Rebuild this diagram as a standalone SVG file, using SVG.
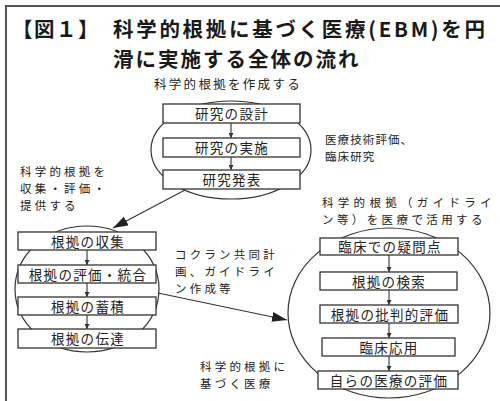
<svg xmlns="http://www.w3.org/2000/svg" width="500" height="401" viewBox="0 0 500 401">
<defs>
<style>
.t{font-family:"Noto Sans CJK JP","Liberation Sans",sans-serif;fill:#222}
.title{font-size:20.5px;font-weight:bold;fill:#1a1a1a}
.lbl{font-size:11.5px;letter-spacing:3.2px}
.bx rect{fill:#fff;stroke:#333;stroke-width:1.3}
.bx text{font-family:"Noto Sans CJK JP","Liberation Sans",sans-serif;font-size:13.5px;letter-spacing:1.3px;fill:#222;text-anchor:middle}
.cl{fill:none;stroke:#333;stroke-width:1.2}
.cn{stroke:#333;stroke-width:1.1;fill:none}
</style>
<marker id="sm" viewBox="0 0 10 10" refX="10" refY="5" markerWidth="5" markerHeight="5" markerUnits="userSpaceOnUse" orient="auto"><path d="M0,0 L10,5 L0,10 z" fill="#333"/></marker>
<marker id="lg" viewBox="0 0 10 10" refX="10" refY="5" markerWidth="15" markerHeight="10" markerUnits="userSpaceOnUse" orient="auto" preserveAspectRatio="none"><path d="M0,0 L10,5 L0,10 z" fill="#222"/></marker>
</defs>
<rect x="0" y="0" width="500" height="401" fill="#fff"/>
<path d="M6,401 V6 H500" fill="none" stroke="#555" stroke-width="2"/>

<g id="title">
<text class="t title" x="12" y="37" letter-spacing="1.5">【図１】</text>
<text class="t title" x="113" y="37" textLength="372" lengthAdjust="spacing">科学的根拠に基づく医療(EBM)を円</text>
<text class="t title" x="113" y="66.5" letter-spacing="2">滑に実施する全体の流れ</text>
</g>

<g id="labels">
<text class="t" x="154" y="89" font-size="12.5" letter-spacing="2.3">科学的根拠を作成する</text>
<text class="t" x="325" y="144" font-size="11.5" letter-spacing="1.1">医療技術評価、</text>
<text class="t" x="325" y="161" font-size="11.5" letter-spacing="1.1">臨床研究</text>
<text class="t" x="322" y="207" font-size="11.5" letter-spacing="4.3">科学的根拠（ガイドライ</text>
<text class="t" x="322" y="224" font-size="11.5" letter-spacing="3.4">ン等）を医療で活用する</text>
<text class="t lbl" x="20" y="176">科学的根拠を</text>
<text class="t lbl" x="20" y="193">収集・評価・</text>
<text class="t lbl" x="20" y="210">提供する</text>
<text class="t lbl" x="175" y="259">コクラン共同計</text>
<text class="t lbl" x="175" y="276">画、ガイドライ</text>
<text class="t lbl" x="175" y="293">ン作成等</text>
<text class="t lbl" x="200" y="371">科学的根拠に</text>
<text class="t lbl" x="200" y="388">基づく医療</text>
</g>

<g id="cluster-create"><ellipse class="cl" cx="231" cy="150" rx="80" ry="49"/></g>
<g id="cluster-collect"><ellipse class="cl" cx="87" cy="289" rx="72" ry="63"/></g>
<g id="cluster-use"><ellipse class="cl" cx="389" cy="313" rx="101" ry="85"/></g>

<g id="connectors">
<line class="cn" x1="231" y1="123" x2="231" y2="138" marker-end="url(#sm)"/>
<line class="cn" x1="231" y1="157" x2="231" y2="170" marker-end="url(#sm)"/>
<line class="cn" x1="87" y1="250" x2="87" y2="265" marker-end="url(#sm)"/>
<line class="cn" x1="87" y1="283" x2="87" y2="297" marker-end="url(#sm)"/>
<line class="cn" x1="87" y1="315" x2="87" y2="329" marker-end="url(#sm)"/>
<line class="cn" x1="389" y1="255" x2="389" y2="272" marker-end="url(#sm)"/>
<line class="cn" x1="389" y1="290" x2="389" y2="305" marker-end="url(#sm)"/>
<line class="cn" x1="389" y1="323" x2="389" y2="338" marker-end="url(#sm)"/>
<line class="cn" x1="389" y1="356" x2="389" y2="371" marker-end="url(#sm)"/>
<line class="cn" x1="185" y1="190" x2="113" y2="228" marker-end="url(#lg)"/>
<line class="cn" x1="158" y1="293" x2="287" y2="320" marker-end="url(#lg)"/>
</g>

<g id="n-design" class="bx"><rect x="163" y="104" width="137" height="19"/><text x="232" y="119">研究の設計</text></g>
<g id="n-conduct" class="bx"><rect x="163" y="138" width="137" height="19"/><text x="232" y="153">研究の実施</text></g>
<g id="n-publish" class="bx"><rect x="163" y="170" width="137" height="19"/><text x="232" y="185">研究発表</text></g>

<g id="n-collect" class="bx"><rect x="18" y="232" width="138" height="18"/><text x="88" y="246.5">根拠の収集</text></g>
<g id="n-appraise" class="bx"><rect x="18" y="265" width="138" height="18"/><text x="88" y="279.5">根拠の評価・統合</text></g>
<g id="n-store" class="bx"><rect x="18" y="297" width="138" height="18"/><text x="88" y="311.5">根拠の蓄積</text></g>
<g id="n-transmit" class="bx"><rect x="18" y="329" width="138" height="19"/><text x="88" y="344">根拠の伝達</text></g>

<g id="n-question" class="bx"><rect x="320" y="238" width="138" height="17"/><text x="390" y="252">臨床での疑問点</text></g>
<g id="n-search" class="bx"><rect x="320" y="272" width="137" height="18"/><text x="389" y="286.5">根拠の検索</text></g>
<g id="n-critical" class="bx"><rect x="320" y="305" width="138" height="18"/><text x="390" y="319.5">根拠の批判的評価</text></g>
<g id="n-apply" class="bx"><rect x="322" y="338" width="133" height="18"/><text x="389" y="352.5">臨床応用</text></g>
<g id="n-evaluate" class="bx"><rect x="318" y="371" width="140" height="18"/><text x="389" y="385.5">自らの医療の評価</text></g>
</svg>
